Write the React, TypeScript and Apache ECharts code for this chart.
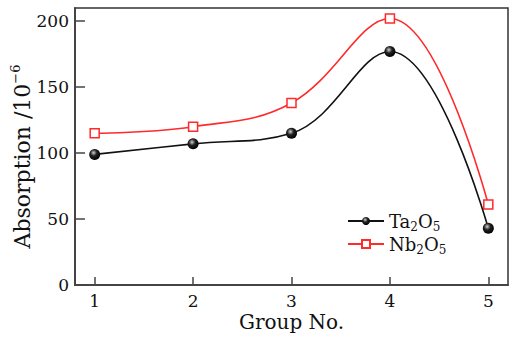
import React, { useEffect, useRef } from "react";
import * as echarts from "echarts";

const groups = [1, 2, 3, 4, 5];
const yTicks = [0, 50, 100, 150, 200];
const ta2o5 = [99, 107, 115, 177, 43];
const nb2o5 = [115, 120, 138, 202, 61];

const FONT = "DejaVu Serif";

export default function App() {
  const ref = useRef<HTMLDivElement>(null);
  useEffect(() => {
    if (!ref.current) return;
    const chart = echarts.init(ref.current, null, { renderer: "svg" });
    const sphere = new echarts.graphic.RadialGradient(0.4, 0.35, 0.65, [
      { offset: 0, color: "#d0d0d0" },
      { offset: 0.45, color: "#222" },
      { offset: 1, color: "#000" },
    ]);
    chart.setOption({
      animation: false,
      backgroundColor: "#fff",
      textStyle: { fontFamily: FONT, color: "#111" },
      grid: {
        left: 75,
        right: 8,
        top: 8,
        bottom: 53,
        containLabel: false,
        outerBoundsMode: "none",
        show: true,
        borderColor: "#333",
        borderWidth: 1.5,
      },
      legend: {
        orient: "vertical",
        left: 342,
        top: 207,
        itemWidth: 36,
        itemHeight: 10,
        itemGap: 2,
        data: ["Ta2O5", "Nb2O5"],
        formatter: (name: string) =>
          name === "Ta2O5"
            ? "{m|Ta}{s|2}{m|O}{s|5}"
            : "{m|Nb}{s|2}{m|O}{s|5}",
        textStyle: {
          fontFamily: FONT,
          color: "#111",
          rich: {
            m: { fontFamily: FONT, fontSize: 18, color: "#111", lineHeight: 24, verticalAlign: "middle" },
            s: { fontFamily: FONT, fontSize: 12, color: "#111", lineHeight: 10, padding: [8, 0, 0, 0], verticalAlign: "bottom" },
          },
        },
      },
      xAxis: {
        type: "value",
        min: 0.8,
        max: 5.2,
        name: "Group No.",
        nameLocation: "middle",
        nameGap: 27,
        nameMoveOverlap: false,
        nameTextStyle: { fontFamily: FONT, fontSize: 20, color: "#111" },
        axisLine: { show: true, onZero: false, lineStyle: { color: "#444", width: 2 } },
        axisTick: { show: true, inside: true, length: 8, customValues: groups, lineStyle: { color: "#444", width: 1.5 } },
        axisLabel: { customValues: groups, fontFamily: FONT, fontSize: 17, color: "#111", margin: 7 },
        splitLine: { show: false },
      },
      yAxis: {
        type: "value",
        min: 0,
        max: 210,
        name: "{m|Absorption /10}{sup|−6}",
        nameLocation: "middle",
        nameGap: 40,
        nameMoveOverlap: false,
        nameTextStyle: {
          fontFamily: FONT,
          padding: [0, 20, 0, 0],
          rich: {
            m: { fontFamily: FONT, fontSize: 22, color: "#111", lineHeight: 26 },
            sup: { fontFamily: FONT, fontSize: 13, color: "#111", verticalAlign: "top", lineHeight: 22 },
          },
        },
        axisLine: { show: true, lineStyle: { color: "#444", width: 2 } },
        axisTick: { show: true, inside: true, length: 10, customValues: yTicks, lineStyle: { color: "#444", width: 1.5 } },
        axisLabel: { customValues: yTicks, fontFamily: FONT, fontSize: 17, color: "#111", margin: 6 },
        splitLine: { show: false },
      },
      series: [
        {
          name: "Ta2O5",
          type: "line",
          smooth: 0.4,
          data: groups.map((g, i) => [g, ta2o5[i]]),
          symbol: "circle",
          symbolSize: 11,
          lineStyle: { color: "#111", width: 1.6 },
          itemStyle: { color: sphere, borderWidth: 0 },
          z: 3,
        },
        {
          name: "Nb2O5",
          type: "line",
          smooth: 0.4,
          data: groups.map((g, i) => [g, nb2o5[i]]),
          symbol: "rect",
          symbolSize: 9,
          showAllSymbol: true,
          lineStyle: { color: "#ff2a2a", width: 1.6 },
          itemStyle: { color: "#fff", borderColor: "#ff2a2a", borderWidth: 1.5 },
          z: 2,
        },
      ],
    });
    return () => chart.dispose();
  }, []);
  return <div ref={ref} style={{ width: 516, height: 338, position: "absolute", left: 0, top: 0 }} />;
}
